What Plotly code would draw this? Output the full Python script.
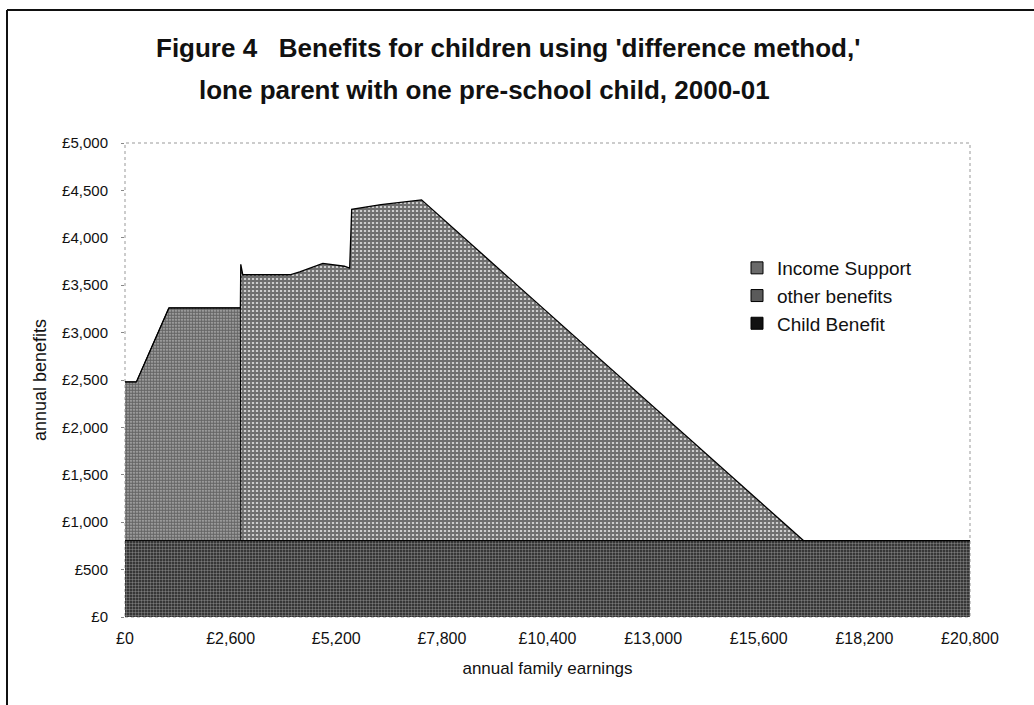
import plotly.graph_objects as go

# annual family earnings (GBP)
earnings = [0, 280, 1080, 2840, 2850, 2900, 4060, 4300, 4870, 5400, 5530, 5580, 6300, 7300, 16700, 20800]
# stacked components (GBP per year)
child_benefit = [806] * len(earnings)
income_support = [1674, 1674, 2454, 2454, 0, 0, 0, 0, 0, 0, 0, 0, 0, 0, 0, 0]
other_benefits = [0, 0, 0, 0, 2914, 2804, 2804, 2834, 2924, 2894, 2874, 3494, 3544, 3594, 0, 0]

x_ticks = [0, 2600, 5200, 7800, 10400, 13000, 15600, 18200, 20800]
x_labels = ["£0", "£2,600", "£5,200", "£7,800", "£10,400", "£13,000", "£15,600", "£18,200", "£20,800"]
y_ticks = [0, 500, 1000, 1500, 2000, 2500, 3000, 3500, 4000, 4500, 5000]
y_labels = ["£0", "£500", "£1,000", "£1,500", "£2,000", "£2,500", "£3,000", "£3,500", "£4,000", "£4,500", "£5,000"]

FONT = "Liberation Sans, Arial, sans-serif"

fig = go.Figure()
fig.add_trace(go.Scatter(
    x=earnings, y=child_benefit, name="Child Benefit", stackgroup="one",
    mode="lines", line=dict(color="black", width=1), showlegend=False,
    fillcolor="#1c1c1c",
    fillpattern=dict(shape=".", fgcolor="#d0d0d0", bgcolor="#202020", size=3, solidity=0.5),
))
fig.add_trace(go.Scatter(
    x=earnings, y=income_support, name="Income Support", stackgroup="one",
    mode="lines", line=dict(color="black", width=1), showlegend=False,
    fillcolor="#7a7a7a",
    fillpattern=dict(shape=".", fgcolor="#101010", bgcolor="#bdbdbd", size=3, solidity=0.75),
))
fig.add_trace(go.Scatter(
    x=earnings, y=other_benefits, name="other benefits", stackgroup="one",
    mode="lines", line=dict(color="black", width=1.3), showlegend=False,
    fillcolor="#7a7a7a",
    fillpattern=dict(shape="+", fgcolor="#101010", bgcolor="#cccccc", size=4, solidity=0.7),
))

# legend entries (square swatches, like the original)
for name, col in [("Income Support", "#6a6a6a"), ("other benefits", "#5a5a5a"), ("Child Benefit", "#111111")]:
    fig.add_trace(go.Scatter(
        x=[None], y=[None], name=name, mode="markers",
        marker=dict(symbol="square", size=12, color=col, line=dict(color="black", width=1)),
    ))

L, R, T, B = 125, 970, 143, 617
W, H = 1034, 705

def px(xp):
    return (xp - L) / (R - L)

def py(yp):
    return (B - yp) / (B - T)

fig.update_layout(
    width=W, height=H,
    margin=dict(l=L, r=W - R, t=T, b=H - B),
    paper_bgcolor="white", plot_bgcolor="white",
    font=dict(family=FONT, color="#111", size=15),
    showlegend=True,
    legend=dict(
        x=px(737), y=py(249), xanchor="left", yanchor="top",
        font=dict(family=FONT, size=19, color="#111"),
        bgcolor="rgba(0,0,0,0)", traceorder="normal", tracegroupgap=0,
        itemwidth=30,
    ),
    xaxis=dict(
        range=[0, 20800], tickvals=x_ticks, ticktext=x_labels,
        showgrid=False, zeroline=False, showline=False, ticks="",
        ticklabelstandoff=10,
        tickfont=dict(family=FONT, size=16, color="#111"),
        title=dict(text="annual family earnings", font=dict(family=FONT, size=17, color="#111"), standoff=16),
    ),
    yaxis=dict(
        range=[0, 5000], tickvals=y_ticks, ticktext=y_labels,
        showgrid=False, zeroline=False, showline=False, ticks="outside", ticklen=3,
        tickcolor="#888", ticklabelstandoff=10,
        tickfont=dict(family=FONT, size=15, color="#111"),
        title=dict(text="annual benefits", font=dict(family=FONT, size=18, color="#111"), standoff=10),
    ),
    annotations=[
        dict(text="<b>Figure 4   Benefits for children using 'difference method,'</b>",
             xref="paper", yref="paper", x=px(508), y=py(48), showarrow=False,
             xanchor="center", yanchor="middle", font=dict(family=FONT, size=26, color="#111")),
        dict(text="<b>lone parent with one pre-school child, 2000-01</b>",
             xref="paper", yref="paper", x=px(484), y=py(90), showarrow=False,
             xanchor="center", yanchor="middle", font=dict(family=FONT, size=26, color="#111")),
    ],
    shapes=[
        # dotted plot frame
        dict(type="rect", xref="paper", yref="paper", x0=0, y0=0, x1=1, y1=1,
             line=dict(color="#999", width=1, dash="dot"), layer="below"),
        # outer page frame
        dict(type="line", xref="paper", yref="paper", x0=px(7), x1=px(7), y0=py(710), y1=py(10),
             line=dict(color="#111", width=2)),
        dict(type="line", xref="paper", yref="paper", x0=px(7), x1=px(1040), y0=py(10), y1=py(10),
             line=dict(color="#111", width=2)),
    ],
)

fig.write_html("out.html")
